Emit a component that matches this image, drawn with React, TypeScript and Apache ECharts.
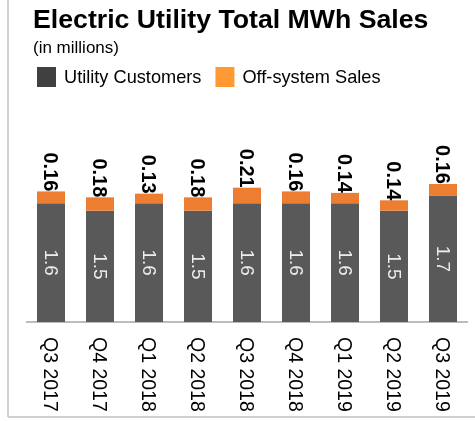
import React, { useEffect, useRef } from "react";
import * as echarts from "echarts";

const categories = ["Q3 2017", "Q4 2017", "Q1 2018", "Q2 2018", "Q3 2018", "Q4 2018", "Q1 2019", "Q2 2019", "Q3 2019"];
const utilityCustomers = [1.6, 1.5, 1.6, 1.5, 1.6, 1.6, 1.6, 1.5, 1.7];
const offSystemSales = [0.16, 0.18, 0.13, 0.18, 0.21, 0.16, 0.14, 0.14, 0.16];
const seriesNames = ["Utility Customers", "Off-system Sales"];

export default function App() {
  const ref = useRef<HTMLDivElement>(null);
  useEffect(() => {
    const chart = echarts.init(ref.current!, null, { renderer: "svg" });
    chart.setOption({
      animation: false,
      textStyle: { fontFamily: "'Liberation Sans', Arial, sans-serif" },
      title: {
        text: "Electric Utility Total MWh Sales",
        subtext: "(in millions)",
        left: 33,
        top: 5,
        padding: 0,
        itemGap: 7,
        textStyle: { fontSize: 26.7, fontWeight: "bold", color: "#000" },
        subtextStyle: { fontSize: 17, color: "#000" },
      },
      legend: {
        left: 37,
        top: 67,
        padding: 0,
        itemWidth: 19,
        itemHeight: 20,
        itemGap: 14,
        icon: "rect",
        textStyle: { fontSize: 18.2, color: "#000", padding: [0, 0, 0, 3] },
        data: [
          { name: seriesNames[0], itemStyle: { color: "#404040" } },
          { name: seriesNames[1], itemStyle: { color: "#FF9933" } },
        ],
      },
      graphic: [
        { type: "line", shape: { x1: 8, y1: 0, x2: 8, y2: 417 }, style: { stroke: "#d0d0d0", lineWidth: 2 } },
        { type: "line", shape: { x1: 8, y1: 417, x2: 475, y2: 417 }, style: { stroke: "#d0d0d0", lineWidth: 2 } },
      ],
      grid: { left: 26.5, right: 7.5, top: 173.6, bottom: 99 },
      xAxis: {
        type: "category",
        data: categories,
        axisTick: { show: false },
        axisLine: { lineStyle: { color: "#a6a6a6", width: 1.5 } },
        axisLabel: { rotate: -90, fontSize: 19.5, color: "#000", margin: 15, interval: 0 },
      },
      yAxis: { type: "value", min: 0, max: 2, show: false },
      series: [
        {
          name: seriesNames[0],
          type: "bar",
          stack: "total",
          data: utilityCustomers,
          barWidth: 28,
          itemStyle: { color: "#595959" },
          label: {
            show: true,
            position: "inside",
            rotate: -90,
            color: "#ececec",
            fontSize: 19,
            formatter: (p: any) => Number(p.value).toFixed(1),
          },
        },
        {
          name: seriesNames[1],
          type: "bar",
          stack: "total",
          data: offSystemSales,
          barWidth: 28,
          itemStyle: { color: "#ED7D31" },
          label: {
            show: true,
            position: "top",
            rotate: -90,
            align: "right",
            verticalAlign: "middle",
            distance: 0,
            fontWeight: "bold",
            fontSize: 20,
            color: "#000",
            formatter: (p: any) => Number(p.value).toFixed(2),
          },
        },
      ],
    });
    return () => chart.dispose();
  }, []);
  return <div ref={ref} style={{ position: "fixed", left: 0, top: 0, width: 475, height: 421 }} />;
}
